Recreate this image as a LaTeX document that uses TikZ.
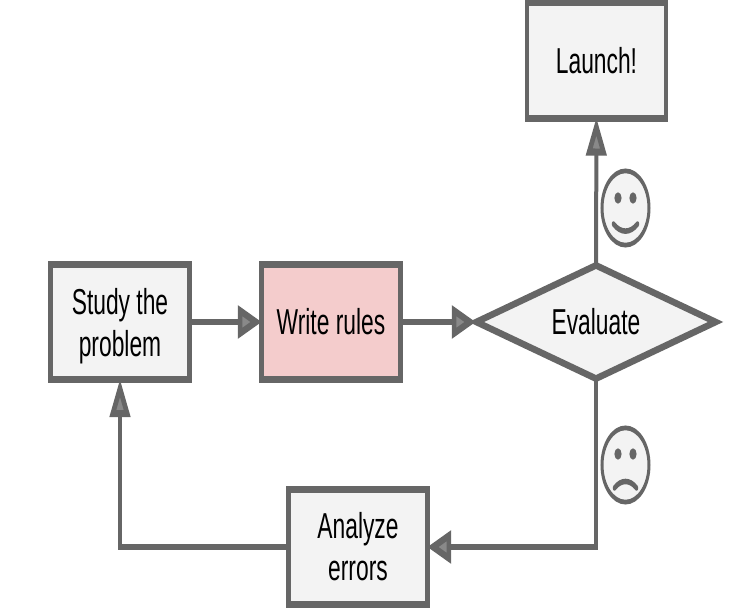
\documentclass[tikz,border=0pt]{standalone}
\usepackage{fontspec}
\setmainfont{Liberation Sans}
\usetikzlibrary{arrows.meta,shapes.geometric}
\definecolor{boxline}{HTML}{666666}
\definecolor{boxfill}{HTML}{F3F3F3}
\definecolor{rulefill}{HTML}{F4CCCC}
\begin{document}
\begin{tikzpicture}[x=1bp, y=-0.6329bp,
    step style/.style={draw=boxline, line width=4.4bp, fill=boxfill, align=center, minimum width=139bp, minimum height=73bp, inner sep=0pt, font=\fontsize{22.9}{26.8}\selectfont},
    decide style/.style={step style, shape=diamond, aspect=3.3, minimum width=241bp, minimum height=73.5bp},
    face style/.style={draw=boxline, line width=3bp, fill=boxfill, shape=circle, minimum size=47bp, inner sep=0pt},
    feature style/.style={draw=boxline, line width=3.5bp, line cap=round},
    flow style/.style={draw=boxline, line width=4bp, shorten >=-2.5bp, shorten <=-2.5bp, -{Triangle[open, length=24bp, width=20bp, line width=4.5bp, fill=boxfill!25!boxline]}},]
    \useasboundingbox (0bp,0bp) rectangle (748bp,-608bp);

    \begin{scope}[transform canvas={yscale=1.58}]

    \node[step style] (launch) at (596.5,60.5) {Launch!};
    \node[step style] (study) at (120,322) {\rule{0pt}{21.5bp}Study the\\problem};
    \node[step style, fill=rulefill] (rules) at (331,322) {Write rules};
    \node[decide style] (evaluate) at (596,322) {Evaluate};
    \node[step style] (analyze) at (358,547) {Analyze\\errors};

    \draw[flow style] (study) -- (rules);
    \draw[flow style] (rules) -- (evaluate);
    \draw[flow style] (evaluate) -- (launch);
    \draw[flow style] (evaluate) |- (analyze);
    \draw[flow style] (analyze) -| (study);

    \node[face style] (happy) at (625.5,208) {};
    \fill[boxline] (happy) ++(-7.5,-10) circle (3.6bp);
    \fill[boxline] (happy) ++(7.5,-10) circle (3.6bp);
    \draw[feature style] (happy) ++(-12,16) to[bend right=40] ++(24,0);

    \node[face style] (sad) at (625.5,465) {};
    \fill[boxline] (sad) ++(-7.5,-11) circle (3.6bp);
    \fill[boxline] (sad) ++(7.5,-11) circle (3.6bp);
    \draw[feature style] (sad) ++(-11,23) to[bend left=40] ++(22,0);

    \end{scope}
\end{tikzpicture}
\end{document}
